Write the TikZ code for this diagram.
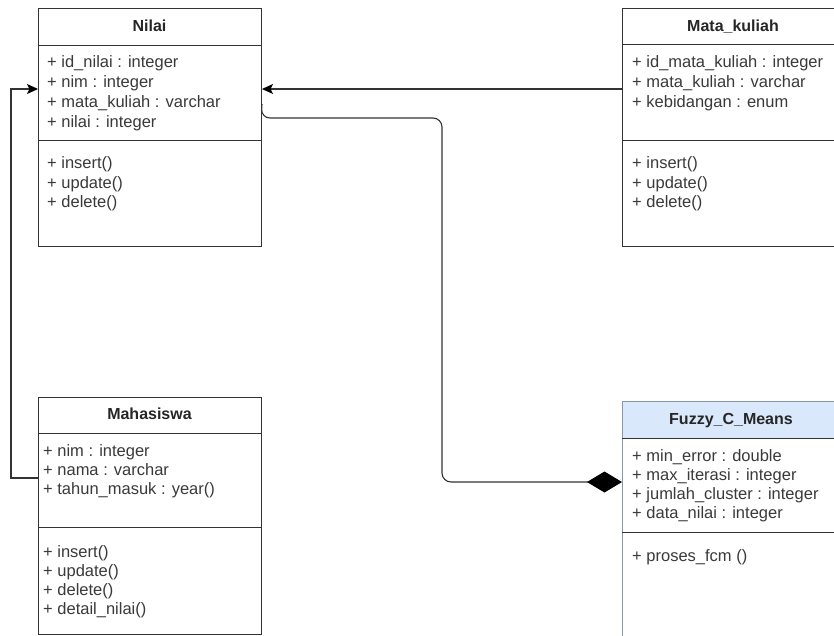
\documentclass[tikz,border=0pt]{standalone}
\usepackage{fontspec}
\setmainfont{Liberation Sans}
\usetikzlibrary{arrows.meta}
\definecolor{linec}{HTML}{333333}
\definecolor{txt}{HTML}{3A3A3A}
\definecolor{hdrblue}{HTML}{DAE8FC}
\definecolor{fborder}{HTML}{8C96A6}
\tikzset{
  umlbox/.style={draw=linec, line width=1pt, anchor=north west, inner sep=0pt},
  divider/.style={draw=linec, line width=1pt},
  attr/.style={anchor=west, inner sep=0pt, text height=12pt, text depth=4pt,
    font=\fontsize{16.5}{20}\selectfont, text=txt},
  ttl/.style={anchor=center, inner sep=0pt, text height=12pt, text depth=4pt,
    font=\fontsize{16}{20}\selectfont\bfseries, text=black!85},
  conn/.style={draw=linec, line width=1.1pt},
  arr/.style={-{Stealth[length=11pt,width=10pt,inset=2.5pt,black]}},
}
\begin{document}
\begin{tikzpicture}[x=1pt,y=-1pt]
\useasboundingbox (0,0) rectangle (834,635);
\clip (0,0) rectangle (834,635);
\fill[white] (0,0) rectangle (834,635);

% ---------- Nilai ----------
\node[umlbox, minimum width=223pt, minimum height=238pt] (nilai) at (38,8) {};
\draw[divider] (38,45) -- (261,45);
\draw[divider] (38,140) -- (261,140);
\node[ttl] (nilaiT) at (149.5,27) {Nilai};
\node[attr] (na1) at (47,63) {+ id\_nilai : integer};
\node[attr] (na2) at (47,83) {+ nim : integer};
\node[attr] (na3) at (47,103) {+ mata\_kuliah : varchar};
\node[attr] (na4) at (47,123) {+ nilai : integer};
\node[attr] (nm1) at (47,164) {+ insert()};
\node[attr] (nm2) at (47,184) {+ update()};
\node[attr] (nm3) at (47,203) {+ delete()};

% ---------- Mata_kuliah ----------
\node[umlbox, minimum width=222pt, minimum height=238pt] (mk) at (622,8) {};
\draw[divider] (622,44) -- (844,44);
\draw[divider] (622,140) -- (844,140);
\node[ttl] (mkT) at (733,27) {Mata\_kuliah};
\node[attr] (ma1) at (632,63) {+ id\_mata\_kuliah : integer};
\node[attr] (ma2) at (632,83) {+ mata\_kuliah : varchar};
\node[attr] (ma3) at (632,103) {+ kebidangan : enum};
\node[attr] (mm1) at (632,164) {+ insert()};
\node[attr] (mm2) at (632,184) {+ update()};
\node[attr] (mm3) at (632,203) {+ delete()};

% ---------- Mahasiswa ----------
\node[umlbox, minimum width=223pt, minimum height=237pt] (mhs) at (38,397) {};
\draw[divider] (38,433) -- (261,433);
\draw[divider] (38,527) -- (261,527);
\node[ttl] (mhsT) at (149.5,415) {Mahasiswa};
\node[attr] (sa1) at (43,452) {+ nim : integer};
\node[attr] (sa2) at (43,471) {+ nama : varchar};
\node[attr] (sa3) at (43,490) {+ tahun\_masuk : year()};
\node[attr] (sm1) at (43,553) {+ insert()};
\node[attr] (sm2) at (43,572) {+ update()};
\node[attr] (sm3) at (43,591) {+ delete()};
\node[attr] (sm4) at (43,610) {+ detail\_nilai()};

% ---------- Fuzzy_C_Means ----------
\fill[hdrblue] (622,401) rectangle (844,438);
\node[umlbox, draw=fborder, minimum width=222pt, minimum height=260pt] (fcm) at (622,401) {};
\draw[divider] (622,438) -- (844,438);
\draw[divider] (622,532) -- (844,532);
\node[ttl] (fcmT) at (731,420) {Fuzzy\_C\_Means};
\node[attr] (fa1) at (632,457) {+ min\_error : double};
\node[attr] (fa2) at (632,476) {+ max\_iterasi : integer};
\node[attr] (fa3) at (632,495) {+ jumlah\_cluster : integer};
\node[attr] (fa4) at (632,514) {+ data\_nilai : integer};
\node[attr] (fm1) at (632,557) {+ proses\_fcm ()};

% ---------- connectors ----------
% Mata_kuliah -> Nilai
\coordinate (mkL) at (mk.west |- 0,89);
\coordinate (nilR) at (nilai.east |- 0,89);
\draw[conn, arr] (mkL) -- (nilR);

% Mahasiswa -> Nilai
\coordinate (mhsL) at (mhs.west |- 0,478);
\coordinate (lc1) at (11,478);
\coordinate (lc2) at (11,89);
\coordinate (nilL) at (nilai.west |- 0,89);
\draw[conn, arr] (mhsL) -- (lc1) -- (lc2) -- (nilL);

% Nilai -> Fuzzy_C_Means (composition)
\coordinate (nilR2) at (nilai.east |- 0,104);
\coordinate (c1) at (261,118);
\coordinate (c2) at (442,118);
\coordinate (c3) at (442,482);
\coordinate (fcmL) at (fcm.west |- 0,482);
\draw[conn, rounded corners=9pt, -{Diamond[length=35pt,width=21pt,black]}] (nilR2) -- (c1) -- (c2) -- (c3) -- (fcmL);
\end{tikzpicture}
\end{document}
